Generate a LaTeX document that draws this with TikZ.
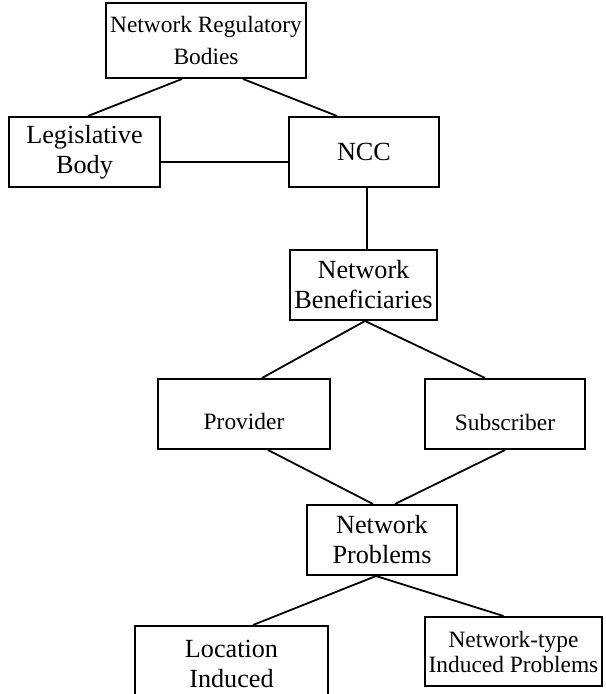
\documentclass[tikz,border=0pt]{standalone}
\usepackage{fontspec}
\setmainfont{Liberation Serif}
\usepackage{tikz}
\usetikzlibrary{positioning, calc}

\newcommand{\bigtxt}{\fontsize{13.1}{15}\selectfont}
\newcommand{\smalltxt}{\fontsize{11.7}{12.5}\selectfont}

\begin{document}
\begin{tikzpicture}[
    x=0.5pt, y=-0.5pt,
    box/.style={rectangle, draw=black, line width=1pt, fill=white,
        text=black, font=\bigtxt, inner sep=0pt, align=center},
    smallbox/.style={box, font=\smalltxt},
    link/.style={draw=black, line width=0.9pt}
]
    \useasboundingbox (0,0) rectangle (605,694);

    \node[smallbox, minimum width=100pt, minimum height=37.5pt,
        font=\fontsize{11.7}{15.8}\selectfont] (reg) at (206,40.5) {Network Regulatory\\Bodies};
    \node[box, minimum width=75.5pt, minimum height=35pt] (leg) at (84.5,152) {Legislative\\Body};
    \node[box, minimum width=75pt, minimum height=35pt, right=63.5pt of leg] (ncc) {NCC};
    \node[box, minimum width=73.5pt, minimum height=35pt] (ben) at (363.5,285) {Network\\Beneficiaries};
    \node[smallbox, minimum width=86pt, minimum height=35pt, text height=16pt] (prov) at (244,414) {Provider};
    \node[smallbox, minimum width=80pt, minimum height=35pt, text height=17pt, right=46.5pt of prov] (subs) {Subscriber};
    \node[box, minimum width=75pt, minimum height=35pt] (prob) at (382,540) {Network\\Problems};
    \node[box, minimum width=96.5pt, minimum height=38pt] (loc) at (231.5,664) {Location\\Induced};
    \node[smallbox, minimum width=88.5pt, minimum height=34.5pt] (ntype) at (513.5,651.5) {Network-type\\Induced Problems};

    % regulatory bodies
    \draw[link] ([xshift=-12pt]reg.south) -- ([xshift=1.75pt]leg.north);
    \draw[link] ([xshift=18.5pt]reg.south) -- ([xshift=-13.5pt]ncc.north);
    \draw[link] ([yshift=-5pt]leg.east) -- ([yshift=-5pt]leg.east -| ncc.west);
    \draw[link] ([xshift=1.5pt]ncc.south) -- ([xshift=1.5pt]ncc.south |- ben.north);

    % beneficiaries
    \draw[link] ([xshift=0.75pt]ben.south) -- ([xshift=9pt]prov.north);
    \draw[link] ([xshift=0.75pt]ben.south) -- ([xshift=-10pt]subs.north);
    \draw[link] ([xshift=12pt]prov.south) -- ([xshift=-4.5pt]prob.north);
    \draw[link] (subs.south) -- ([xshift=6.5pt]prob.north);

    % problems
    \draw[link] ([xshift=-3pt]prob.south) -- ([xshift=10.75pt]loc.north);
    \draw[link] ([xshift=-3pt]prob.south) -- ([xshift=-5pt]ntype.north);
\end{tikzpicture}
\end{document}
